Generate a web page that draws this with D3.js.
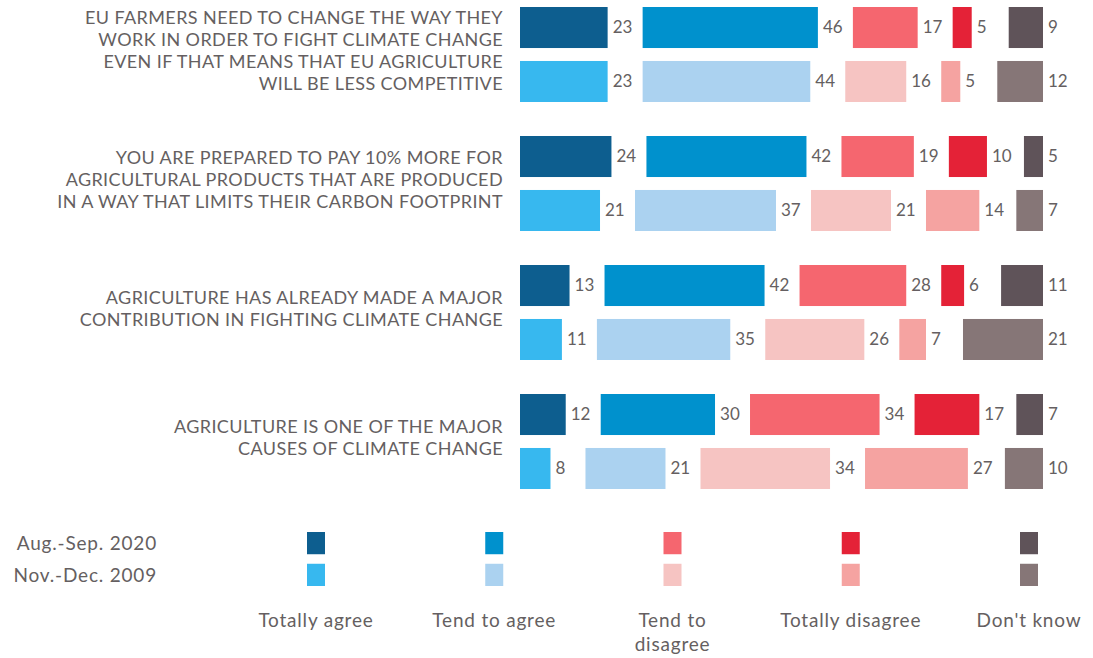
<!DOCTYPE html>
<meta charset="utf-8">
<style>
body { margin: 0; background: #fff; }
text { font-family: Lato, "Open Sans", sans-serif; fill: #655f61; }
.q { font-size: 18px; letter-spacing: 0.4px; }
.val { font-size: 17px; }
.leg { font-size: 19px; letter-spacing: 0.8px; }
</style>
<body>
<script src="https://d3js.org/d3.v7.min.js"></script>
<script>
var categories = ["Totally agree", "Tend to agree", "Tend to disagree", "Totally disagree", "Don't know"];
var catLines = [["Totally agree"], ["Tend to agree"], ["Tend to", "disagree"], ["Totally disagree"], ["Don't know"]];
var periods = ["Aug.-Sep. 2020", "Nov.-Dec. 2009"];

var questions = [
  ["EU FARMERS NEED TO CHANGE THE WAY THEY", "WORK IN ORDER TO FIGHT CLIMATE CHANGE", "EVEN IF THAT MEANS THAT EU AGRICULTURE", "WILL BE LESS COMPETITIVE"],
  ["YOU ARE PREPARED TO PAY 10% MORE FOR", "AGRICULTURAL PRODUCTS THAT ARE PRODUCED", "IN A WAY THAT LIMITS THEIR CARBON FOOTPRINT"],
  ["AGRICULTURE HAS ALREADY MADE A MAJOR", "CONTRIBUTION IN FIGHTING CLIMATE CHANGE"],
  ["AGRICULTURE IS ONE OF THE MAJOR", "CAUSES OF CLIMATE CHANGE"]
];

var values2020 = [[23, 46, 17, 5, 9], [24, 42, 19, 10, 5], [13, 42, 28, 6, 11], [12, 30, 34, 17, 7]];
var values2009 = [[23, 44, 16, 5, 12], [21, 37, 21, 14, 7], [11, 35, 26, 7, 21], [8, 21, 34, 27, 10]];

var colors2020 = ["#0d5e8f", "#0091cd", "#f5666f", "#e42237", "#5f5359"];
var colors2009 = ["#37b8ef", "#abd2f0", "#f6c4c2", "#f5a3a1", "#867677"];

var w = 1093, h = 658;
var svg = d3.select("body").append("svg").attr("width", w).attr("height", h);

var left = 520, right = 1043, gap = 35;
var x = d3.scaleLinear().domain([0, 100]).range([0, 381]);
var yq = d3.scaleBand().domain(d3.range(questions.length)).range([7, 7 + 129 * 4]);
var ys = d3.scaleBand().domain([0, 1]).range([0, 95]).paddingInner(0.24);

// first four segments run left to right with a gap for the label, "don't know" sits at the right edge
function layout(vals) {
  var out = [], acc = 0;
  vals.forEach(function(v, i) {
    var x0;
    if (i < vals.length - 1) { x0 = left + x(acc) + i * gap; acc += v; }
    else { x0 = right - x(v); }
    out.push({v: v, i: i, x0: x0, w: x(v)});
  });
  return out;
}

questions.forEach(function(lines, qi) {
  var g = svg.append("g").attr("transform", "translate(0," + yq(qi) + ")");
  var mid = 95 / 2 - 4;
  var lh = 22;
  g.selectAll("text.q").data(lines).enter().append("text")
    .attr("class", "q")
    .attr("x", 503)
    .attr("y", function(d, i) { return mid + (i - (lines.length - 1) / 2) * lh; })
    .attr("dy", "0.35em")
    .attr("text-anchor", "end")
    .text(function(d) { return d; });

  [values2020[qi], values2009[qi]].forEach(function(vals, si) {
    var cols = si === 0 ? colors2020 : colors2009;
    var segs = layout(vals);
    var row = g.append("g").attr("transform", "translate(0," + ys(si) + ")");
    row.selectAll("rect").data(segs).enter().append("rect")
      .attr("x", function(d) { return d.x0; })
      .attr("y", 0)
      .attr("width", function(d) { return d.w; })
      .attr("height", ys.bandwidth())
      .attr("fill", function(d) { return cols[d.i]; });
    row.selectAll("text").data(segs).enter().append("text")
      .attr("class", "val")
      .attr("x", function(d) { return d.x0 + d.w + 5; })
      .attr("y", ys.bandwidth() / 2)
      .attr("dy", "0.35em")
      .text(function(d) { return d.v; });
  });
});

// legend
var lx = d3.scalePoint().domain(categories).range([316, 1029]);
var ly = d3.scaleBand().domain(periods).range([532, 586]).paddingInner(0.3);

svg.selectAll("text.per").data(periods).enter().append("text")
  .attr("class", "leg")
  .attr("x", 157)
  .attr("y", function(d) { return ly(d) + ly.bandwidth() / 2; })
  .attr("dy", "0.35em")
  .attr("text-anchor", "end")
  .text(function(d) { return d; });

periods.forEach(function(p, pi) {
  var cols = pi === 0 ? colors2020 : colors2009;
  svg.selectAll("rect.l" + pi).data(categories).enter().append("rect")
    .attr("x", function(d) { return lx(d) - 9; })
    .attr("y", ly(p))
    .attr("width", 18)
    .attr("height", ly.bandwidth())
    .attr("fill", function(d, i) { return cols[i]; });
});

categories.forEach(function(c, ci) {
  svg.selectAll("text.c" + ci).data(catLines[ci]).enter().append("text")
    .attr("class", "leg")
    .attr("x", lx(c))
    .attr("y", function(d, i) { return 627 + i * 24; })
    .attr("text-anchor", "middle")
    .text(function(d) { return d; });
});
</script>
</body>
